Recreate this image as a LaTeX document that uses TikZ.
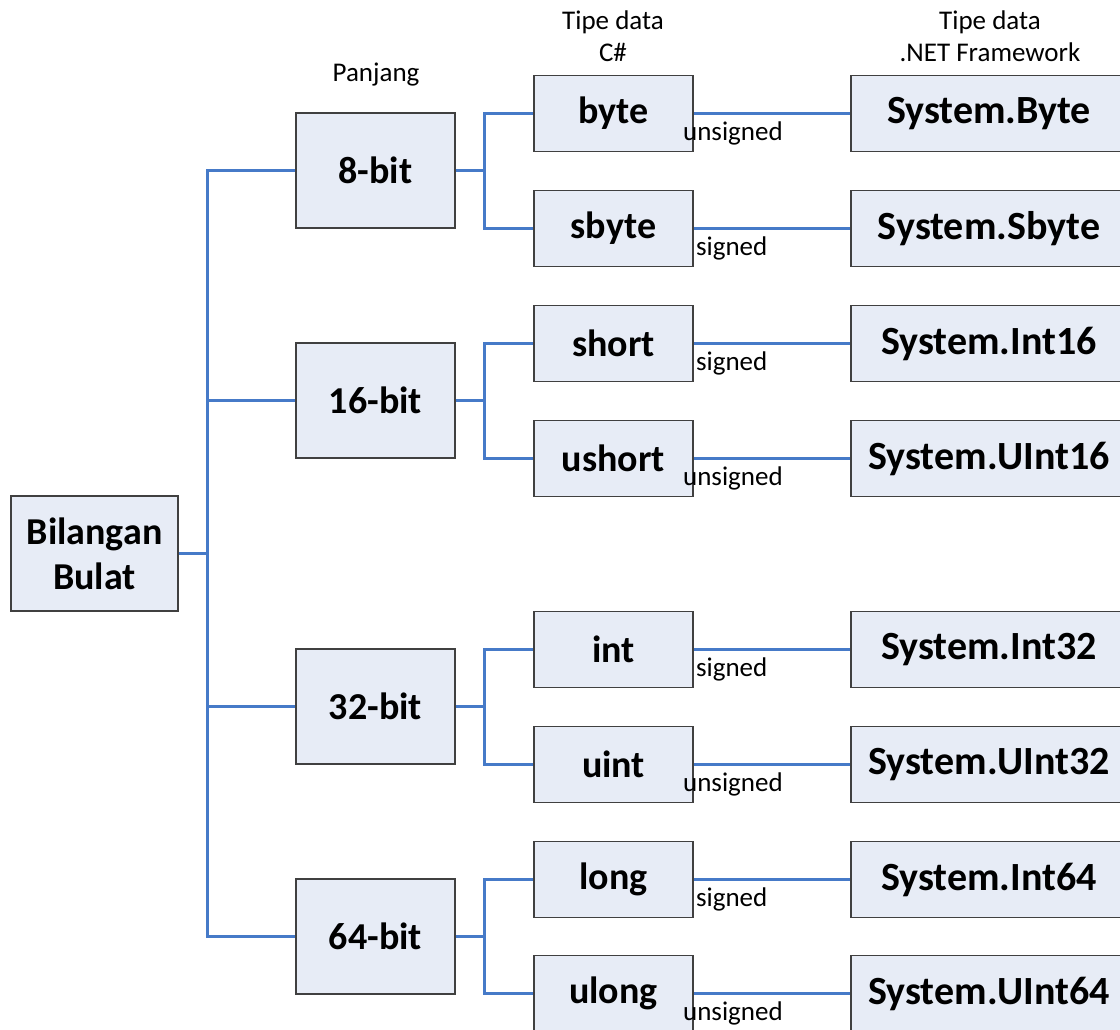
\documentclass[tikz,border=0pt]{standalone}
\usepackage{fontspec}
\setmainfont{Carlito}
\usetikzlibrary{positioning}
\definecolor{boxfill}{RGB}{231,236,246}
\definecolor{boxline}{RGB}{64,64,64}
\definecolor{wire}{RGB}{70,122,200}
\begin{document}
\begin{tikzpicture}[x=1pt,y=-1pt,
  box/.style={draw=boxline,line width=1.8pt,fill=boxfill,align=center,inner sep=0pt,
    font=\fontsize{38}{45}\selectfont\bfseries},
  rootbox/.style={box,minimum width=167pt,minimum height=115pt},
  bitbox/.style={box,minimum width=159pt,minimum height=115pt},
  csbox/.style={box,minimum width=159pt,minimum height=76pt},
  netbox/.style={box,minimum width=276pt,minimum height=76pt,
    font=\fontsize{40}{45}\selectfont\bfseries},
  head/.style={align=center,font=\fontsize{27}{32}\selectfont},
  tag/.style={anchor=west,inner sep=0pt,font=\fontsize{27}{32}\selectfont},
  trunk/.style={draw=wire,line width=3pt},
  link/.style={draw=wire,line width=2.4pt}]
  \clip (0,0) rectangle (1120,1030);
  \useasboundingbox (0,0) rectangle (1120,1030);
  % headers
  \node[head] (hlen) at (376,75) {Panjang};
  \node[head] (hcs) at (613,36) {Tipe data\\C\#};
  \node[head] (hnet) at (990,36) {Tipe data\\.NET Framework};
  % root
  \node[rootbox] (bb) at (94.5,553.5) {Bilangan\\Bulat};
  % lengths
  \node[bitbox] (b8) at (375.5,170.5) {8-bit};
  \node[bitbox] (b16) at (375.5,400.5) {16-bit};
  \node[bitbox] (b32) at (375.5,706.5) {32-bit};
  \node[bitbox] (b64) at (375.5,936.5) {64-bit};
  % C# types
  \node[csbox] (byte) at (613.5,113.5) {byte};
  \node[csbox] (sbyte) at (613.5,228.5) {sbyte};
  \node[csbox] (short) at (613.5,343.5) {short};
  \node[csbox] (ushort) at (613.5,458.5) {ushort};
  \node[csbox] (int) at (613.5,649.5) {int};
  \node[csbox] (uint) at (613.5,764.5) {uint};
  \node[csbox] (long) at (613.5,879.5) {long};
  \node[csbox] (ulong) at (613.5,993.5) {ulong};
  % .NET types
  \node[netbox] (nbyte) at (989,113.5) {System.Byte};
  \node[netbox] (nsbyte) at (989,228.5) {System.Sbyte};
  \node[netbox] (nshort) at (989,343.5) {System.Int16};
  \node[netbox] (nushort) at (989,458.5) {System.UInt16};
  \node[netbox] (nint) at (989,649.5) {System.Int32};
  \node[netbox] (nuint) at (989,764.5) {System.UInt32};
  \node[netbox] (nlong) at (989,879.5) {System.Int64};
  \node[netbox] (nulong) at (989,993.5) {System.UInt64};
  % root to lengths
  \path[trunk] (bb.east) -- ++(29,0) |- (b8.west);
  \path[trunk] (bb.east) -- ++(29,0) |- (b16.west);
  \path[trunk] (bb.east) -- ++(29,0) |- (b32.west);
  \path[trunk] (bb.east) -- ++(29,0) |- (b64.west);
  % lengths to C# types
  \path[trunk] (b8.east) -- ++(29,0) |- (byte.west);
  \path[trunk] (b8.east) -- ++(29,0) |- (sbyte.west);
  \path[trunk] (b16.east) -- ++(29,0) |- (short.west);
  \path[trunk] (b16.east) -- ++(29,0) |- (ushort.west);
  \path[trunk] (b32.east) -- ++(29,0) |- (int.west);
  \path[trunk] (b32.east) -- ++(29,0) |- (uint.west);
  \path[trunk] (b64.east) -- ++(29,0) |- (long.west);
  \path[trunk] (b64.east) -- ++(29,0) |- (ulong.west);
  % C# to .NET
  \path[link] (byte) -- (nbyte);
  \path[link] (sbyte) -- (nsbyte);
  \path[link] (short) -- (nshort);
  \path[link] (ushort) -- (nushort);
  \path[link] (int) -- (nint);
  \path[link] (uint) -- (nuint);
  \path[link] (long) -- (nlong);
  \path[link] (ulong) -- (nulong);
  % signed / unsigned
  \node[tag] (tbyte) at ([xshift=-11pt,yshift=-20pt]byte.east) {unsigned};
  \node[tag] (tsbyte) at ([xshift=2pt,yshift=-20pt]sbyte.east) {signed};
  \node[tag] (tshort) at ([xshift=2pt,yshift=-20pt]short.east) {signed};
  \node[tag] (tushort) at ([xshift=-11pt,yshift=-20pt]ushort.east) {unsigned};
  \node[tag] (tint) at ([xshift=2pt,yshift=-20pt]int.east) {signed};
  \node[tag] (tuint) at ([xshift=-11pt,yshift=-20pt]uint.east) {unsigned};
  \node[tag] (tlong) at ([xshift=2pt,yshift=-20pt]long.east) {signed};
  \node[tag] (tulong) at ([xshift=-11pt,yshift=-20pt]ulong.east) {unsigned};
\end{tikzpicture}
\end{document}
